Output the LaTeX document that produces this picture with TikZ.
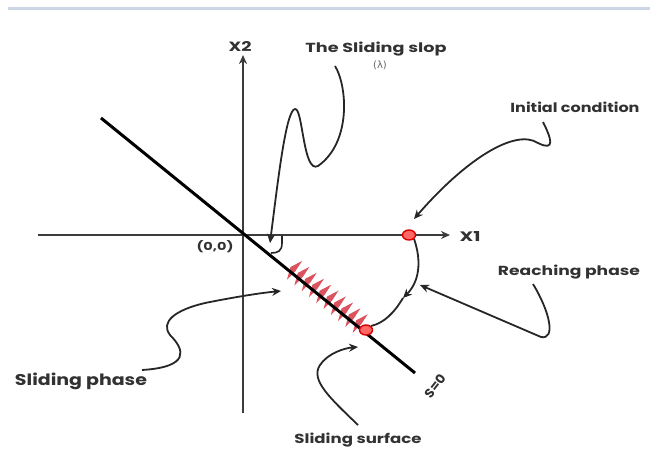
\documentclass[tikz,border=0pt]{standalone}
\usepackage{fontspec}
\setmainfont{Poppins}
\newfontfamily\dejavu{DejaVu Sans}
\usetikzlibrary{arrows.meta,calc,shapes.geometric}
\definecolor{txt}{RGB}{50,50,50}
\definecolor{axis}{RGB}{60,60,60}
\definecolor{topline}{RGB}{205,214,228}
\definecolor{teeth}{RGB}{210,40,55}
\newcommand\lab[3]{\resizebox{#1pt}{#2pt}{\bfseries #3}}
\begin{document}
\begin{tikzpicture}[x=1pt,y=-1pt,
  axisline/.style={draw=axis,line width=2pt,-{Stealth[length=9pt,width=8pt]}},
  arr/.style={draw=black!85,line width=1.8pt,-{Stealth[length=9pt,width=8pt]}},
  plain/.style={draw=black!85,line width=1.8pt},
  lbl/.style={text=txt,inner sep=0pt},
  dot/.style={ellipse,minimum width=13pt,minimum height=10pt,inner sep=0pt,fill=red!60,draw=red!85!black,line width=1.4pt},
  tooth/.style={fill=teeth,opacity=0.8}]
\useasboundingbox (0,0) rectangle (650,450);
\draw[topline,line width=3pt] (8,8) -- (650,8);

% axes
\coordinate (O) at (243,235);
\coordinate (x1s) at (38,235);
\coordinate (x1e) at (450,235);
\coordinate (x2s) at (243,413);
\coordinate (x2e) at (243,55);
\draw[axisline] (x1s) -- (x1e);
\draw[axisline] (x2s) -- (x2e);

% sliding teeth
\foreach \i in {0,...,9}{
  \pgfmathsetmacro\cx{293+\i*9.4*0.776}
  \pgfmathsetmacro\cy{269+\i*9.4*0.630}
  \fill[tooth] (\cx-3.2*0.776,\cy-3.2*0.630) -- (\cx+12*0.630+2*0.776,\cy-12*0.776+2*0.630)
     -- (\cx+3.2*0.776,\cy+3.2*0.630) -- (\cx-12*0.630+2*0.776,\cy+12*0.776+2*0.630) -- cycle;
}

% sliding line
\coordinate (Ls) at (101,118);
\coordinate (Le) at (415,373);
\draw[black,line width=3pt] (Ls) -- (Le);

% points
\node[dot] (IC) at (409,235) {};
\node[dot] (SP) at (366,330) {};

% labels
\node[lbl] (X2) at (240,46) {\lab{23}{10}{X2}};
\node[lbl] (X1) at (470,236) {\lab{21}{10}{X1}};
\node[lbl] (org) at (215,247) {\lab{37}{10}{(0,0)}};
\node[lbl] (slop) at (376,49) {\lab{141}{10.5}{The Sliding slop}};
\node[lbl,text=black!60] (lam) at (380,65) {\dejavu\fontsize{10}{11}\selectfont (λ)};
\node[lbl] (init) at (575,107) {\lab{129}{10.5}{Initial condition}};
\node[lbl] (reach) at (569,272) {\lab{142}{10.5}{Reaching phase}};
\node[lbl] (sphase) at (81,381) {\lab{132}{12.5}{Sliding phase}};
\node[lbl] (ssurf) at (358,440) {\lab{127}{10.5}{Sliding surface}};
\node[lbl,rotate=52] (s0) at (435,386) {\lab{26}{9.5}{S=0}};

% trajectory
\coordinate (mid) at (403,298);
\draw[arr] (IC.south east) .. controls (422,262) and (419,282) .. (mid);
\draw[plain] (mid) .. controls (394,313) and (384,323) .. (SP.north east);

% initial condition pointer
\coordinate (icS) at (543,122);
\coordinate (icT) at (414,219);
\draw[arr] (icS) .. controls (551,138) and (556,152) .. (538,143)
   .. controls (515,128) and (465,160) .. (icT);

% reaching phase pointer
\coordinate (rpS) at (533,284);
\coordinate (rpT) at (420,285);
\draw[arr] (rpS) .. controls (550,312) and (556,340) .. (541,337) -- (rpT);

% sliding slop pointer
\coordinate (slS) at (335,66);
\coordinate (slT) at (270,243);
\draw[arr] (slS) .. controls (347,85) and (352,142) .. (318,166)
  .. controls (303,174) and (303,108) .. (295,109)
  .. controls (286,110) and (278,180) .. (slT);
\draw[plain,line width=1.6pt] (282,236) -- (282,243) .. controls (282,251) and (278,253) .. (271,253);

% sliding phase pointer
\coordinate (spS) at (142,370);
\coordinate (spT) at (281,291);
\draw[arr] (spS) .. controls (190,367) and (185,350) .. (170,335)
  .. controls (160,322) and (175,310) .. (205,303)
  .. controls (235,297) and (260,293) .. (spT);

% sliding surface pointer
\coordinate (ssS) at (358,425);
\coordinate (ssT) at (358,347);
\draw[arr] (ssS) .. controls (330,398) and (310,380) .. (320,365)
  .. controls (328,353) and (345,348) .. (ssT);
\end{tikzpicture}
\end{document}
